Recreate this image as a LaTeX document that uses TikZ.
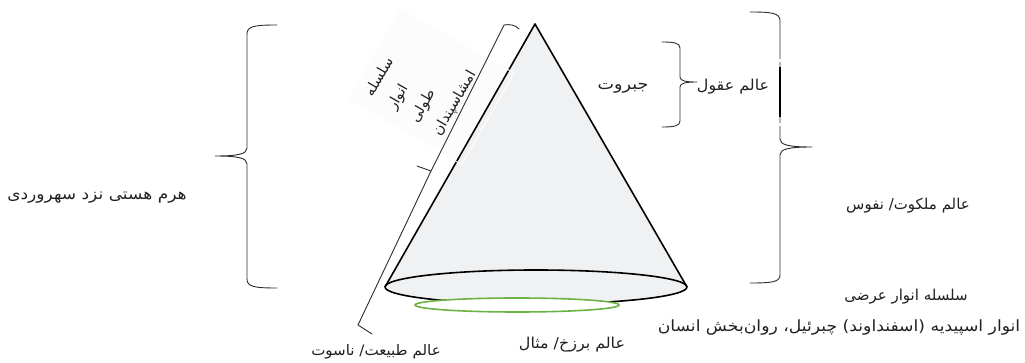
\documentclass[tikz,border=0pt]{standalone}
\usepackage{fontspec}
\newfontfamily\arabicfont[Script=Arabic]{DejaVu Sans}
\TeXXeTstate=1
\definecolor{conegray}{RGB}{240,241,243}
\definecolor{ringgreen}{RGB}{108,178,68}
\definecolor{bracecol}{RGB}{45,45,45}
\definecolor{inkcol}{RGB}{35,31,32}
\newcommand{\fsz}[1]{\fontsize{#1}{#1}\selectfont}
\begin{document}
\begin{tikzpicture}[x=1pt,y=-1pt,
  lbl/.style={font=\arabicfont, inner sep=0pt, text=inkcol},
  bracestroke/.style={draw=bracecol, line width=0.9pt, line join=round, line cap=round},
  coneline/.style={draw=black, line width=1.6pt, line join=round}]
\useasboundingbox (0,0) rectangle (1025,363);
% faint text box behind the cone
\node[rotate=60, fill=gray!2, draw=none, minimum width=105, minimum height=131, inner sep=0pt] (tbox) at (431,86) {};
% cone
\coordinate (apex) at (535,24);
\coordinate (bl) at (385,287);
\coordinate (br) at (687,287);
\coordinate (base) at (536,287);
\fill[conegray] (apex) -- (bl) -- (br) -- cycle;
\draw[coneline, fill=conegray] (base) ellipse [x radius=151, y radius=17];
\draw[coneline] (bl) -- (apex) -- (br);
\draw[ringgreen, line width=1.6pt, fill=white] (517,305) ellipse [x radius=102, y radius=7];
% white border of the text box
\draw[white, line width=0.9pt] (tbox.north west) -- (tbox.north east) -- (tbox.south east) -- (tbox.south west) -- cycle;
% brace along the cone side
\draw[bracestroke] (519,29) .. controls (516,25) and (509,24) .. (504,25) -- (431,171) -- (417,166) -- (431,171) -- (358,325) -- (372,334);
% left brace
\draw[bracestroke] (277,25) .. controls (255,25) and (247,26) .. (247,34) -- (247,148) .. controls (247,154) and (238,156) .. (215,156) .. controls (238,156) and (247,158) .. (247,164) -- (247,279) .. controls (247,287) and (255,288) .. (277,288);
% small right brace
\draw[bracestroke] (662,42) .. controls (674,42) and (680,43) .. (680,48) -- (680,77) .. controls (680,81) and (686,82) .. (697,82) .. controls (686,82) and (680,83) .. (680,87) -- (680,121) .. controls (680,126) and (674,127) .. (662,127);
% big right brace
\draw[bracestroke] (750,12) .. controls (772,12) and (780,13) .. (780,21) -- (780,139) .. controls (780,145) and (789,147) .. (812,147) .. controls (789,147) and (780,149) .. (780,155) -- (780,275) .. controls (780,282) and (772,283) .. (750,283);
\draw[black, line width=2pt] (780,67) -- (780,117);
\draw[white, line width=1.5pt] (780,59) -- (780,62);
\draw[white, line width=1.5pt] (780,123) -- (780,126);
% labels
\node[lbl] (pyramid) at (97,198) {\scalebox{1.1}[1]{\fsz{15.5}\beginR هرم هستی نزد سهروردی\endR}};
\node[lbl] (jabarut) at (623,88) {\scalebox{1.13}[1]{\fsz{15.5}\beginR جبروت\endR}};
\node[lbl] (oqul) at (733,87) {\scalebox{1.06}[1]{\fsz{15}\beginR عالم عقول\endR}};
\node[lbl] (malakut) at (908,206) {\fsz{15}\beginR عالم ملکوت/ نفوس\endR};
\node[lbl] (arzi) at (906,297) {\fsz{15}\beginR سلسله انوار عرضی\endR};
\node[lbl] (espahbad) at (839,328) {\scalebox{1.11}[1]{\fsz{15.5}\beginR انوار اسپیدیه (اسفنداوند) چبرئیل، روان‌بخش انسان\endR}};
\node[lbl] (nasut) at (376,352) {\scalebox{1.04}[1]{\fsz{14.5}\beginR عالم طبیعت/ ناسوت\endR}};
\node[lbl] (barzakh) at (572,345) {\scalebox{1.06}[1]{\fsz{15}\beginR عالم برزخ/ مثال\endR}};
\node[font=\arabicfont\fontsize{14.5}{26}\selectfont, inner sep=0pt, text=inkcol, rotate=60, align=left] (tuli) at (421,84) {\beginR سلسله\endR\\ \beginR انوار\endR\\ \beginR طولی\endR\\ \beginR امشاسپندان\endR};
\end{tikzpicture}
\end{document}
